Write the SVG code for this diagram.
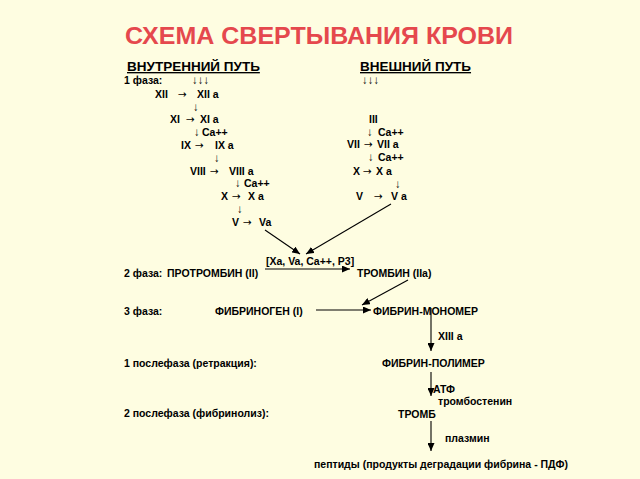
<svg xmlns="http://www.w3.org/2000/svg" width="640" height="479" viewBox="0 0 640 479">
<defs>
<style>
text{font-family:"Liberation Sans",Arial,sans-serif;font-weight:bold;fill:#000;}
.t{font-size:10.5px;}
.h{font-size:13.5px;text-decoration:underline;}
.title{font-size:24.5px;fill:#E5484D;}
.ar{font-family:"DejaVu Sans",sans-serif;font-weight:normal;font-size:10.5px;}
.dn{font-weight:normal;font-size:11.5px;}
.c{stroke:#000;stroke-width:1.1;fill:none;marker-end:url(#ah);}
</style>
<marker id="ah" markerUnits="userSpaceOnUse" markerWidth="9" markerHeight="7" refX="8" refY="3.5" orient="auto">
<path d="M0,0 L8,3.5 L0,7 z" fill="#000"/>
</marker>
</defs>
<rect width="640" height="479" fill="#FEFDE1"/>
<g id="title"><text class="title" x="125" y="44" textLength="388" lengthAdjust="spacingAndGlyphs">СХЕМА СВЕРТЫВАНИЯ КРОВИ</text></g>
<g id="head-internal"><text class="h" x="127" y="71">ВНУТРЕННИЙ ПУТЬ</text></g>
<g id="head-external"><text class="h" x="360" y="71"> ВНЕШНИЙ ПУТЬ</text></g>
<g id="phase1"><text class="t" x="124" y="84">1 фаза:<tspan class="dn" x="192">↓↓↓</tspan></text></g>
<g id="ext-start"><text class="t dn" x="362" y="84">↓↓↓</text></g>
<g id="f12"><text class="t" x="155" y="98">XII<tspan class="ar" x="178">→</tspan><tspan x="197">XII a</tspan></text></g>
<g id="a12"><text class="t dn" x="193" y="111">↓</text></g>
<g id="f11"><text class="t" x="170" y="123">XI<tspan class="ar" x="186">→</tspan><tspan x="200">XI a</tspan></text></g>
<g id="a11"><text class="t" x="194" y="136"><tspan class="dn">↓</tspan><tspan x="202">Ca++</tspan></text></g>
<g id="f9"><text class="t" x="181" y="149">IX<tspan class="ar" x="195">→</tspan><tspan x="215">IX a</tspan></text></g>
<g id="a9"><text class="t dn" x="214" y="162">↓</text></g>
<g id="f8"><text class="t" x="190" y="175">VIII<tspan class="ar" x="210">→</tspan><tspan x="229">VIII a</tspan></text></g>
<g id="a8"><text class="t" x="235" y="187"><tspan class="dn">↓</tspan><tspan x="244">Ca++</tspan></text></g>
<g id="f10i"><text class="t" x="221" y="200">X<tspan class="ar" x="232">→</tspan><tspan x="248">X a</tspan></text></g>
<g id="a10i"><text class="t dn" x="237" y="213">↓</text></g>
<g id="f5i"><text class="t" x="232" y="226">V<tspan class="ar" x="243">→</tspan><tspan x="259">Va</tspan></text></g>
<g id="f3"><text class="t" x="369" y="123">III</text></g>
<g id="a3"><text class="t" x="367" y="136"><tspan class="dn">↓</tspan><tspan x="378">Ca++</tspan></text></g>
<g id="f7"><text class="t" x="347" y="148">VII<tspan class="ar" x="364">→</tspan><tspan x="377">VII a</tspan></text></g>
<g id="a7"><text class="t" x="368" y="161"><tspan class="dn">↓</tspan><tspan x="378">Ca++</tspan></text></g>
<g id="f10e"><text class="t" x="353" y="175">X<tspan class="ar" x="363">→</tspan><tspan x="376">X a</tspan></text></g>
<g id="a10e"><text class="t dn" x="395" y="188">↓</text></g>
<g id="f5e"><text class="t" x="356" y="200">V<tspan class="ar" x="374">→</tspan><tspan x="391">V a</tspan></text></g>
<g id="complex"><text class="t" x="266" y="265">[Xa, Va, Ca++, P3]</text></g>
<g id="phase2"><text class="t" x="124" y="277">2 фаза:<tspan x="167">ПРОТРОМБИН (II)</tspan></text></g>
<g id="thrombin"><text class="t" x="357" y="277">ТРОМБИН (IIa)</text></g>
<g id="phase3"><text class="t" x="124" y="315">3 фаза:<tspan x="215">ФИБРИНОГЕН (I)</tspan></text></g>
<g id="monomer"><text class="t" x="373" y="315">ФИБРИН-МОНОМЕР</text></g>
<g id="f13"><text class="t" x="438" y="340">XIII a</text></g>
<g id="post1"><text class="t" x="124" y="367">1 послефаза (ретракция):</text></g>
<g id="polymer"><text class="t" x="382" y="367">ФИБРИН-ПОЛИМЕР</text></g>
<g id="atp"><text class="t" x="433" y="393">АТФ</text><text class="t" x="438" y="405">тромбостенин</text></g>
<g id="post2"><text class="t" x="124" y="417">2 послефаза (фибринолиз):</text></g>
<g id="thromb"><text class="t" x="398" y="418">ТРОМБ</text></g>
<g id="plasmin"><text class="t" x="445" y="442">плазмин</text></g>
<g id="peptides"><text class="t" x="314" y="468">пептиды (продукты деградации фибрина - ПДФ)</text></g>
<g id="connectors">
<line class="c" x1="265" y1="230" x2="300" y2="254"/>
<line class="c" x1="391" y1="204" x2="306" y2="254"/>
<line class="c" x1="265" y1="269" x2="350" y2="269"/>
<line class="c" x1="408" y1="280" x2="362" y2="305"/>
<line class="c" x1="316" y1="310" x2="371" y2="310"/>
<line class="c" x1="431" y1="308" x2="431" y2="351"/>
<line class="c" x1="431" y1="372" x2="431" y2="396"/>
<line class="c" x1="431" y1="421" x2="431" y2="451"/>
</g>
</svg>
